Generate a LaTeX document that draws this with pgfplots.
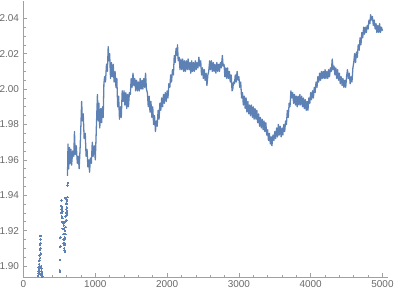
\documentclass[border=0pt]{standalone}
\usepackage{pgfplots}
\pgfplotsset{compat=1.18}
\usepackage{fontspec}
\setmainfont{Liberation Sans}
\definecolor{mblue}{RGB}{94,129,181}
\definecolor{axgray}{RGB}{160,160,160}
\definecolor{lblgray}{RGB}{105,105,105}
\begin{document}
\begin{tikzpicture}
\begin{axis}[name=ax,
  scale only axis, width=364bp, height=276.5bp,
  xmin=0, xmax=5070, ymin=1.8935, ymax=2.0498,
  axis lines=left, axis line style={-, draw=axgray, line width=0.8pt},
  xtick={0,1000,2000,3000,4000,5000},
  ytick={1.90,1.92,1.94,1.96,1.98,2.00,2.02,2.04},
  minor x tick num=4, minor y tick num=3,
  tick align=inside, major tick length=4bp, minor tick length=2.2bp,
  tick style={draw=axgray, line width=0.6pt},
  /pgf/number format/assume math mode=true,
  /pgf/number format/set thousands separator={},
  yticklabel style={/pgf/number format/fixed, /pgf/number format/fixed zerofill, /pgf/number format/precision=2, xshift=-1bp},
  ticklabel style={font=\fontsize{10}{12}\selectfont, text=lblgray},
  clip=true,
]
\addplot[mblue, only marks, mark=*, mark size=0.75pt, mark options={draw=mblue, fill=mblue, line width=0pt}] coordinates {
(205,1.8945)(208,1.897)(210,1.899)(212,1.8955)(214,1.898)(216,1.901)(218,1.8965)(220,1.899)(222,1.903)(224,1.906)(226,1.900)(228,1.909)(230,1.912)(232,1.9045)(234,1.915)(236,1.917)(238,1.910)(240,1.913)(242,1.907)(244,1.900)(246,1.897)(248,1.895)(250,1.8985)(252,1.896)(255,1.894)(258,1.8965)(262,1.894)
(505,1.8968)(508,1.8975)(510,1.9035)(512,1.911)(514,1.916)
(525,1.934)(528,1.930)(531,1.937)(534,1.928)(537,1.933)(540,1.925)(543,1.931)(546,1.921)(549,1.927)(552,1.918)(555,1.924)(558,1.915)(561,1.921)(564,1.912)(567,1.918)(570,1.909)(573,1.915)(576,1.920)(579,1.912)(582,1.925)(585,1.918)(588,1.928)(591,1.922)(594,1.932)(597,1.926)(600,1.935)(603,1.929)(606,1.937)(609,1.931)(590,1.938)(596,1.9355)(556,1.913)(566,1.910)(575,1.908)(580,1.9385)
(530,1.932)(545,1.927)(560,1.918)(572,1.913)(585,1.922)(598,1.930)(604,1.933)(562,1.923)(578,1.916)(592,1.926)
(612,1.939)(615,1.9455)(618,1.947)
};
\addplot[mblue, line width=1.3pt, line join=round, mark=none] coordinates {
(613,1.951)(620,1.969)(630,1.955)(640,1.967)(650,1.958)(660,1.966)(670,1.957)(685,1.965)(700,1.962)(710,1.976)(720,1.963)(735,1.968)(750,1.958)(765,1.962)(775,1.955)(790,1.968)(800,1.980)(810,1.993)(820,1.982)(832,1.986)(845,1.972)(860,1.975)(872,1.962)(885,1.966)(897,1.956)(910,1.960)(920,1.953)(932,1.961)(945,1.958)(958,1.970)(970,1.962)(985,1.968)(1000,1.960)(1010,1.972)(1020,1.985)(1030,1.997)(1040,1.982)(1050,1.992)(1062,1.978)(1075,1.989)(1088,1.981)(1100,1.990)(1110,1.984)(1120,2.003)(1130,2.007)(1142,2.004)(1156,2.014)(1168,2.010)(1180,2.024)(1190,2.016)(1200,2.020)(1212,2.006)(1225,2.015)(1238,2.007)(1250,2.014)(1262,2.004)(1275,2.010)(1288,2.001)(1300,2.006)(1312,1.990)(1325,1.996)(1337,1.983)(1350,1.990)(1362,1.984)(1375,1.999)(1388,1.993)(1400,1.999)(1412,1.991)(1425,1.998)(1438,1.989)(1450,1.997)(1462,1.990)(1475,1.998)(1488,1.997)(1500,2.006)(1512,2.001)(1525,2.009)(1538,2.002)(1550,2.006)(1562,1.999)(1575,2.005)(1588,1.999)(1600,2.004)(1612,1.999)(1625,2.006)(1638,2.000)(1650,2.005)(1662,2.000)(1675,2.006)(1688,2.001)(1700,2.009)(1712,2.000)(1725,1.998)(1738,1.990)(1750,1.996)(1762,1.987)(1775,1.993)(1788,1.984)(1800,1.990)(1812,1.980)(1825,1.985)(1838,1.976)(1850,1.982)(1862,1.979)(1875,1.988)(1888,1.983)(1900,1.992)(1912,1.988)(1925,1.995)(1938,1.990)(1950,1.997)(1962,1.992)(1975,1.998)(1988,1.993)(2000,1.999)(2012,1.995)(2025,2.003)(2038,2.001)(2050,2.008)(2062,2.004)(2075,2.011)(2088,2.008)(2100,2.019)(2112,2.015)(2125,2.023)(2138,2.019)(2145,2.025)(2155,2.016)(2168,2.018)(2180,2.011)(2193,2.017)(2205,2.011)(2218,2.017)(2230,2.010)(2243,2.016)(2255,2.010)(2268,2.016)(2280,2.011)(2293,2.017)(2305,2.011)(2318,2.015)(2330,2.009)(2343,2.016)(2355,2.010)(2368,2.015)(2380,2.010)(2393,2.016)(2405,2.011)(2418,2.015)(2430,2.012)(2443,2.018)(2455,2.013)(2468,2.016)(2480,2.008)(2493,2.012)(2505,2.006)(2518,2.011)(2530,2.005)(2543,2.009)(2555,2.002)(2568,2.008)(2580,2.010)(2593,2.016)(2605,2.011)(2618,2.016)(2630,2.010)(2643,2.015)(2655,2.010)(2668,2.014)(2680,2.009)(2693,2.015)(2705,2.010)(2718,2.014)(2730,2.010)(2743,2.015)(2755,2.012)(2770,2.019)(2780,2.013)(2793,2.014)(2805,2.007)(2818,2.012)(2830,2.006)(2843,2.012)(2855,2.006)(2868,2.010)(2880,2.004)(2893,2.008)(2905,1.999)(2915,2.000)(2925,2.004)(2938,2.003)(2950,2.008)(2962,2.004)(2975,2.010)(2988,2.005)(3000,2.007)(3012,2.001)(3025,2.004)(3038,1.995)(3050,1.998)(3062,1.991)(3075,1.996)(3088,1.989)(3100,1.995)(3112,1.987)(3125,1.993)(3138,1.986)(3150,1.991)(3162,1.985)(3175,1.991)(3188,1.984)(3200,1.990)(3212,1.983)(3225,1.989)(3238,1.983)(3250,1.988)(3262,1.981)(3275,1.986)(3288,1.979)(3300,1.984)(3312,1.978)(3325,1.983)(3338,1.977)(3350,1.982)(3362,1.976)(3375,1.981)(3388,1.974)(3400,1.977)(3412,1.971)(3425,1.975)(3438,1.969)(3450,1.973)(3460,1.968)(3475,1.974)(3488,1.971)(3500,1.976)(3512,1.972)(3525,1.978)(3538,1.973)(3550,1.980)(3562,1.974)(3575,1.979)(3588,1.973)(3600,1.978)(3612,1.974)(3625,1.980)(3638,1.976)(3650,1.982)(3662,1.980)(3675,1.988)(3688,1.984)(3700,1.992)(3712,1.990)(3725,1.999)(3738,1.995)(3750,1.998)(3762,1.992)(3775,1.997)(3788,1.991)(3800,1.996)(3812,1.990)(3825,1.996)(3838,1.991)(3850,1.997)(3862,1.991)(3875,1.996)(3888,1.990)(3900,1.995)(3912,1.989)(3925,1.994)(3938,1.988)(3950,1.993)(3962,1.988)(3975,1.995)(3988,1.992)(4000,1.998)(4012,1.994)(4025,1.999)(4038,1.995)(4050,2.001)(4062,1.998)(4075,2.004)(4088,2.001)(4100,2.007)(4112,2.004)(4125,2.009)(4138,2.005)(4150,2.010)(4162,2.006)(4175,2.010)(4188,2.006)(4200,2.011)(4212,2.006)(4225,2.010)(4238,2.006)(4250,2.011)(4262,2.007)(4275,2.012)(4288,2.010)(4300,2.017)(4312,2.011)(4325,2.013)(4338,2.008)(4350,2.012)(4362,2.006)(4375,2.011)(4388,2.005)(4400,2.009)(4412,2.003)(4425,2.007)(4438,2.002)(4450,2.006)(4462,2.001)(4475,2.005)(4488,2.001)(4500,2.007)(4512,2.011)(4525,2.006)(4538,2.009)(4550,2.003)(4562,2.007)(4575,2.004)(4588,2.012)(4600,2.015)(4612,2.020)(4625,2.015)(4638,2.021)(4650,2.018)(4662,2.025)(4675,2.022)(4688,2.029)(4700,2.025)(4712,2.032)(4725,2.029)(4738,2.035)(4750,2.031)(4762,2.035)(4775,2.032)(4788,2.036)(4800,2.034)(4812,2.039)(4825,2.037)(4835,2.042)(4848,2.039)(4860,2.041)(4872,2.036)(4885,2.039)(4898,2.034)(4910,2.037)(4922,2.032)(4935,2.036)(4948,2.032)(4960,2.037)(4972,2.032)(4985,2.035)(5000,2.033)
};
\end{axis}
\pgfresetboundingbox
\path[use as bounding box] ([xshift=-23.5bp,yshift=-20.5bp]ax.south west) rectangle ([xshift=371.5bp,yshift=1bp]ax.north west);
\end{tikzpicture}
\end{document}
